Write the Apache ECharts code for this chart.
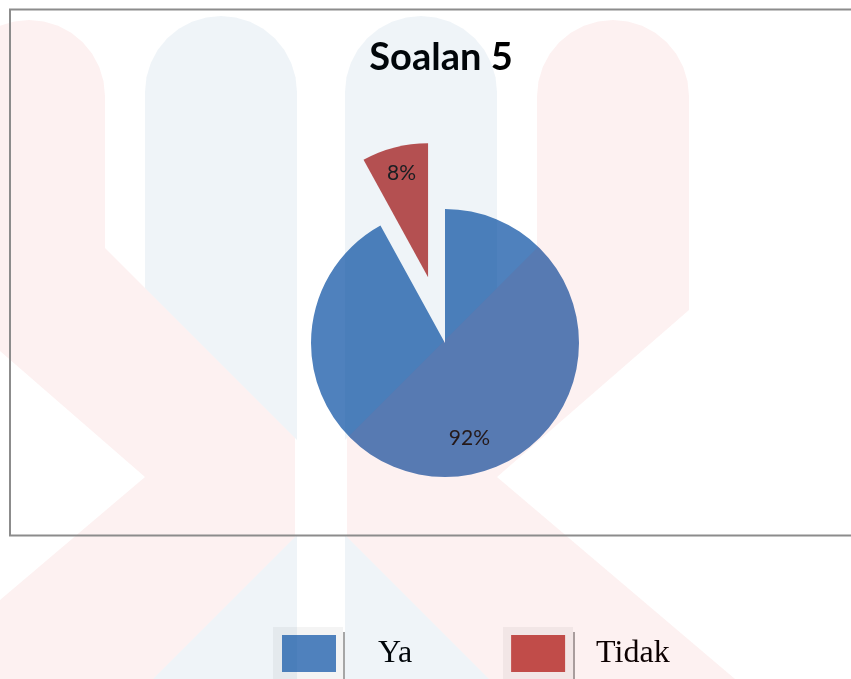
<!DOCTYPE html>
<html>
<head>
<meta charset="utf-8">
<title>Soalan 5</title>
<script src="https://cdn.jsdelivr.net/npm/echarts@6/dist/echarts.min.js"></script>
<style>
  html, body { margin: 0; padding: 0; background: #fff; }
  #chart { width: 851px; height: 679px; }
</style>
</head>
<body>
<div id="chart"></div>
<script>
// data
const categories = ["Ya", "Tidak"];
const values = [92, 8];
const colors = ["#4F81BD", "#C0504D"];
const explodedIndex = 1; // Tidak is pulled out

const startAngle = 90;
const pieRadius = 134;
const labelShift = [28, 37]; // push inside labels outwards from r/2

// middle angle of every slice, used to move the labels radially
const total = values.reduce((a, b) => a + b, 0);
let acc = 0;
const midAngles = values.map((v) => {
  const m = startAngle - (360 * (acc + v / 2)) / total;
  acc += v;
  return m;
});

// rounded top column as polygon points (watermark helper)
function roundTop(x0, x1, yTop) {
  const r = (x1 - x0) / 2;
  const cx = x0 + r;
  const cy = yTop + r;
  const pts = [];
  for (let i = 0; i <= 16; i++) {
    const a = Math.PI + (Math.PI * i) / 16;
    pts.push([cx + r * Math.cos(a), cy + r * Math.sin(a)]);
  }
  return pts;
}

const pinkFill = "rgba(227,20,20,0.06)";
const blueFill = "rgba(12,84,155,0.065)";

// watermark shapes (pink chevrons, blue columns cut where the pink lies)
const leftPink = roundTop(-47, 105, 20).concat([
  [105, 248], [295, 438], [295, 537], [153, 679], [-93, 679], [145, 477], [-47, 310],
]);
const rightPink = roundTop(537, 689, 20).concat([
  [689, 310], [497, 477], [735, 679], [489, 679], [347, 537], [347, 438], [537, 248],
]);
const blueTop1 = roundTop(145, 297, 16).concat([[297, 440], [145, 288]]);
const blueBot1 = [[153, 679], [297, 535], [297, 679]];
const blueTop2 = roundTop(345, 497, 16).concat([[497, 288], [345, 440]]);
const blueBot2 = [[345, 535], [489, 679], [345, 679]];

function overlay(points, fill) {
  return { type: "polygon", silent: true, z: 10, shape: { points: points }, style: { fill: fill } };
}

const chart = echarts.init(document.getElementById("chart"));

chart.setOption({
  backgroundColor: "#fff",
  animation: false,
  title: {
    text: "Soalan 5",
    left: 436,
    top: 34,
    textAlign: "center",
    textStyle: {
      fontFamily: "Lato",
      fontWeight: "bold",
      fontSize: 38,
      color: "#000",
    },
  },
  legend: {
    data: categories,
    icon: "rect",
    left: 277,
    top: 630,
    itemWidth: 54,
    itemHeight: 37,
    itemGap: 99,
    selectedMode: false,
    formatter: (name) => `{${name}|${name}}`,
    textStyle: {
      fontFamily: "Liberation Serif",
      fontSize: 32,
      color: "#000",
      rich: {
        Ya: { fontFamily: "Liberation Serif", fontSize: 32, padding: [0, 0, 0, 37] },
        Tidak: { fontFamily: "Liberation Serif", fontSize: 32, padding: [0, 0, 0, 26] },
      },
    },
  },
  series: [
    {
      name: "Soalan 5",
      type: "pie",
      center: [445, 343],
      radius: pieRadius,
      startAngle: startAngle,
      clockwise: true,
      selectedMode: "single",
      selectedOffset: 68,
      avoidLabelOverlap: false,
      itemStyle: { borderWidth: 0 },
      emphasis: { disabled: true },
      label: {
        show: true,
        position: "inside",
        formatter: "{d}%",
        fontFamily: "Lato",
        fontSize: 21,
        color: "#1a1a1a",
      },
      labelLine: { show: false },
      labelLayout: (p) => {
        const a = (midAngles[p.dataIndex] * Math.PI) / 180;
        const s = labelShift[p.dataIndex];
        return { dx: s * Math.cos(a), dy: -s * Math.sin(a) };
      },
      data: categories.map((name, i) => ({
        name: name,
        value: values[i],
        selected: i === explodedIndex,
        itemStyle: { color: colors[i] },
      })),
    },
  ],
  graphic: [
    // chart area frame
    {
      type: "rect",
      silent: true,
      z: 20,
      shape: { x: 10, y: 9.5, width: 900, height: 526 },
      style: { fill: null, stroke: "#8c8c8c", lineWidth: 2 },
    },
    // light boxes behind the legend keys
    {
      type: "rect",
      silent: true,
      z: 0,
      shape: { x: 273, y: 627, width: 70, height: 60 },
      style: { fill: "rgba(0,0,0,0.045)" },
    },
    {
      type: "rect",
      silent: true,
      z: 0,
      shape: { x: 503, y: 627, width: 70, height: 60 },
      style: { fill: "rgba(0,0,0,0.045)" },
    },
    {
      type: "line",
      silent: true,
      z: 0,
      shape: { x1: 344, y1: 632, x2: 344, y2: 679 },
      style: { stroke: "rgba(0,0,0,0.35)", lineWidth: 2 },
    },
    {
      type: "line",
      silent: true,
      z: 0,
      shape: { x1: 574, y1: 632, x2: 574, y2: 679 },
      style: { stroke: "rgba(0,0,0,0.35)", lineWidth: 2 },
    },
    // faint watermark lying over the page
    overlay(blueTop1, blueFill),
    overlay(blueBot1, blueFill),
    overlay(blueTop2, blueFill),
    overlay(blueBot2, blueFill),
    overlay(leftPink, pinkFill),
    overlay(rightPink, pinkFill),
  ],
});

window.addEventListener("resize", () => chart.resize());
</script>
</body>
</html>
